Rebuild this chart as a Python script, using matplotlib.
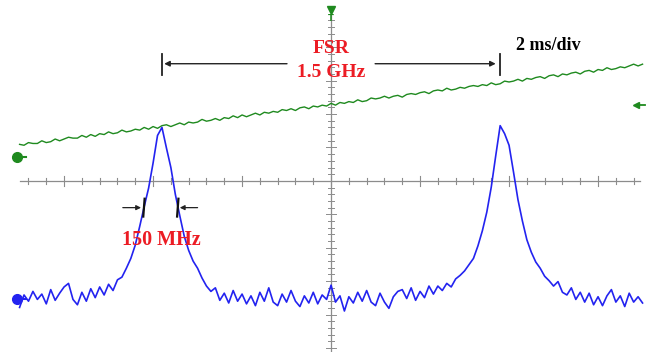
import numpy as np
import matplotlib
matplotlib.use("Agg")
import matplotlib.pyplot as plt

# sample times, ms (0.1 ms step, 2 ms/div on screen)
t_start = -7.0
t_step = 0.1

# cavity transmission (blue channel), screen divisions
transmission = [
    -1.42, -1.28, -1.35, -1.24, -1.33, -1.27, -1.38, -1.22, -1.34, -1.26,
    -1.19, -1.15, -1.33, -1.39, -1.25, -1.35, -1.21, -1.31, -1.19, -1.28,
    -1.16, -1.23, -1.11, -1.08, -0.98, -0.87, -0.72, -0.51, -0.29, -0.08,
    0.20, 0.51, 0.60, 0.37, 0.15, -0.15, -0.39, -0.62, -0.78, -0.90,
    -0.98, -1.09, -1.18, -1.24, -1.20, -1.34, -1.26, -1.37, -1.23, -1.35,
    -1.27, -1.38, -1.29, -1.40, -1.25, -1.35, -1.20, -1.36, -1.40, -1.27,
    -1.36, -1.23, -1.35, -1.41, -1.29, -1.37, -1.25, -1.38, -1.28, -1.33,
    -1.17, -1.36, -1.29, -1.46, -1.30, -1.37, -1.25, -1.35, -1.23, -1.36,
    -1.40, -1.26, -1.36, -1.43, -1.30, -1.24, -1.22, -1.32, -1.20, -1.34,
    -1.24, -1.31, -1.18, -1.27, -1.18, -1.23, -1.15, -1.19, -1.10, -1.06,
    -1.01, -0.94, -0.87, -0.73, -0.56, -0.35, -0.07, 0.28, 0.62, 0.53,
    0.40, 0.10, -0.21, -0.45, -0.66, -0.80, -0.91, -0.98, -1.07, -1.12,
    -1.18, -1.13, -1.25, -1.28, -1.20, -1.33, -1.25, -1.36, -1.26, -1.39,
    -1.30, -1.40, -1.29, -1.22, -1.36, -1.29, -1.41, -1.26, -1.36, -1.30,
    -1.37,
]

# laser sweep ramp (green channel), screen divisions
ramp = [
    0.41, 0.40, 0.43, 0.42, 0.42, 0.45, 0.43, 0.44, 0.47, 0.45,
    0.47, 0.49, 0.48, 0.48, 0.51, 0.49, 0.52, 0.50, 0.53, 0.52,
    0.55, 0.53, 0.54, 0.57, 0.55, 0.56, 0.58, 0.57, 0.60, 0.58,
    0.61, 0.59, 0.62, 0.63, 0.61, 0.63, 0.65, 0.63, 0.66, 0.65,
    0.66, 0.69, 0.67, 0.68, 0.70, 0.68, 0.71, 0.70, 0.73, 0.71,
    0.74, 0.72, 0.74, 0.76, 0.74, 0.77, 0.76, 0.78, 0.77, 0.80,
    0.79, 0.81, 0.79, 0.82, 0.83, 0.81, 0.84, 0.83, 0.85, 0.84,
    0.87, 0.85, 0.88, 0.87, 0.89, 0.88, 0.91, 0.89, 0.90, 0.93,
    0.92, 0.93, 0.95, 0.93, 0.95, 0.96, 0.94, 0.97, 0.98, 0.97,
    0.99, 1.00, 0.98, 1.01, 1.02, 1.01, 1.04, 1.02, 1.03, 1.05,
    1.04, 1.06, 1.07, 1.06, 1.08, 1.07, 1.10, 1.08, 1.09, 1.12,
    1.11, 1.12, 1.14, 1.12, 1.15, 1.14, 1.16, 1.17, 1.15, 1.18,
    1.19, 1.17, 1.20, 1.19, 1.21, 1.22, 1.20, 1.23, 1.24, 1.22,
    1.25, 1.24, 1.27, 1.25, 1.26, 1.28, 1.27, 1.29, 1.31, 1.29,
    1.31,
]

transmission = np.array(transmission)
ramp = np.array(ramp)
t = t_start + t_step * np.arange(len(transmission))

blue = "#2323f0"
green = "#1f8a1f"
red = "#ec1c24"
grid = "#8c8c8c"
serif = "Liberation Serif"

fig = plt.figure(figsize=(6.51, 3.52), dpi=100)
ax = fig.add_axes([0, 0, 1, 1])
ax.set_xlim(-7.44, 7.19)
ax.set_ylim(-1.92, 2.03)
ax.axis("off")

# scope graticule: centre axes with tick marks
ax.plot([-6.99, 6.94], [0, 0], color=grid, lw=0.9, zorder=1)
ax.plot([0, 0], [-1.92, 1.86], color=grid, lw=0.9, zorder=1)
for x in np.arange(-6.8, 7.0, 0.4):
    h = 0.06 if abs(x / 2 - round(x / 2)) < 1e-6 else 0.03
    ax.plot([x, x], [-h, h], color=grid, lw=0.8, zorder=1)
for k, y in enumerate(np.arange(-1.875, 1.86, 0.075)):
    w = 0.11 if k % 5 == 0 else 0.06
    ax.plot([-w, w], [y, y], color=grid, lw=0.7, zorder=1)

ax.plot(t, ramp, color=green, lw=1.0, zorder=3)
ax.plot(t, transmission, color=blue, lw=1.2, zorder=4)

# channel markers
ax.plot([-7.1, -6.85], [0.27, 0.27], color=green, lw=1.5, zorder=5)
ax.plot(-7.05, 0.27, "o", color=green, ms=7, zorder=5)
ax.plot([-7.1, -6.85], [-1.32, -1.32], color=blue, lw=1.5, zorder=5)
ax.plot(-7.05, -1.32, "o", color=blue, ms=7, zorder=5)
ax.plot(6.85, 0.855, "<", color=green, ms=5, zorder=5)
ax.plot([6.85, 7.05], [0.855, 0.855], color=green, lw=1.3, zorder=5)
ax.plot(0, 1.92, "v", color=green, ms=6, zorder=5)
ax.text(0, 1.82, "T", color=green, fontsize=6, ha="center", va="center",
        fontweight="bold", zorder=6)

# FSR between the two resonances
i1 = int(np.argmax(np.where(t < 0, transmission, -9)))
i2 = int(np.argmax(np.where(t > 0, transmission, -9)))
p1, p2 = t[i1], t[i2]
ya = 1.315
for p in (p1, p2):
    ax.plot([p, p], [1.19, 1.42], color="#222222", lw=1.3, zorder=5)
ax.annotate("", xy=(p1 + 0.05, ya), xytext=(-0.99, ya),
            arrowprops=dict(arrowstyle="-|>", color="#222222", lw=1.0,
                            mutation_scale=8, shrinkA=0, shrinkB=0))
ax.annotate("", xy=(p2 - 0.1, ya), xytext=(0.99, ya),
            arrowprops=dict(arrowstyle="-|>", color="#222222", lw=1.0,
                            mutation_scale=8, shrinkA=0, shrinkB=0))
ax.text(0, 1.49, "FSR", color=red, fontsize=14, fontweight="bold",
        family=serif, ha="center", va="center", zorder=6)
ax.text(0, 1.215, "1.5 GHz", color=red, fontsize=14, fontweight="bold",
        family=serif, ha="center", va="center", zorder=6)
ax.text(4.15, 1.52, "2 ms/div", color="black", fontsize=13, fontweight="bold",
        family=serif, ha="left", va="center", zorder=6)

# linewidth marker on first resonance
yl = -0.30
for xb in (-4.22, -3.46):
    ax.plot([xb, xb + 0.03], [-0.40, -0.20], color="#111111", lw=1.6, zorder=5)
ax.annotate("", xy=(-4.27, yl), xytext=(-4.68, yl),
            arrowprops=dict(arrowstyle="-|>", color="#222222", lw=0.9,
                            mutation_scale=7, shrinkA=0, shrinkB=0))
ax.annotate("", xy=(-3.40, yl), xytext=(-3.0, yl),
            arrowprops=dict(arrowstyle="-|>", color="#222222", lw=0.9,
                            mutation_scale=7, shrinkA=0, shrinkB=0))
ax.text(-3.82, -0.66, "150 MHz", color=red, fontsize=14.5, fontweight="bold",
        family=serif, ha="center", va="center", zorder=6)

fig.savefig("out.png", dpi=100, facecolor="white")
